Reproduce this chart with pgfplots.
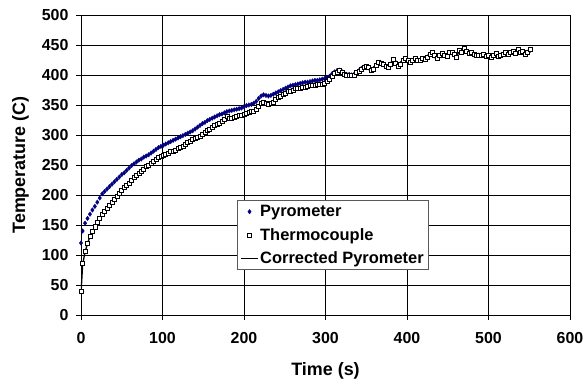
\documentclass[border=0pt]{standalone}
\usepackage{fontspec}
\setmainfont{Liberation Sans}
\usepackage{pgfplots}
\pgfplotsset{compat=1.18}
\usepackage{pgfplotstable}
\definecolor{pyro}{RGB}{0,0,128}
\pgfplotstableread{
t P T C
0 120 40 35
2 140 86 84
5 153 106 105
8 161 120 119
11 168 131 131
14 175 140 140
17 181 147 147
20 188 154 154
23 195 161 161
26 202 167 167
29 206 172 172
32 210 177 177
35 214 182 182
38 218 187 187
41 222 192 192
44 226 197 197
47 230 202 202
50 234 207 207
53 237 212 212
56 241 216 216
59 245 220 220
62 249 224 224
65 252 229 229
68 255 233 233
71 258 236 236
74 260 240 240
77 263 243 243
80 265 247 247
83 267 250 250
86 270 253 253
89 273 256 256
92 276 259 259
95 279 262 262
98 281 264 264
101 283 266 266
104 285 268 268
107 287 270 270
110 289 272 272
113 291 273 273
116 293 275 275
119 295 277 277
122 297 279 279
125 299 281 281
128 301 284 284
131 303 287 287
134 305 290 290
137 307 292 292
140 310 294 294
143 313 296 296
146 316 298 298
149 319 301 301
152 321 304 304
155 324 307 307
158 326 310 310
161 328 313 313
164 330 316 316
167 332 318 318
170 334 320 320
173 335 322 322
176 337 326 326
179 339 331 331
182 340 328 328
185 341 327 327
188 342 330 330
191 343 331 331
194 344 332 332
197 345 333 333
200 347 334 334
203 349 336 336
206 350 338 338
209 351 340 340
212 353 339 339
215 356 342 342
218 361 347 347
221 365 352 352
224 367 355 355
227 366 353 353
230 365 351 351
233 366 352 352
236 368 354 354
239 370 360 360
242 372 363 363
245 374 365 365
248 376 367 367
251 378 370 370
254 380 373 373
257 382 373 373
260 383 375 375
263 384 377 377
266 385 377 377
269 386 378 378
272 387 379 379
275 388 380 380
278 388 381 381
281 389 382 382
284 390 383 383
287 391 383 383
290 391 384 384
293 392 384 384
296 393 385 385
299 394 386 386
302 396 390 390
305 398 392 392
308 402 398 398
311 405 403 403
314 407 405 405
317 408 407 407
320 406 405 405
323 403 401 401
326 401 400 400
329 401 400 400
332 400 399 399
335 401 400 400
338 404 404 404
341 407 406 406
344 411 410 410
347 413 413 413
350 414 414 414
353 412 412 412
356 409 408 408
359 411 410 410
362 416 416 416
365 420 421 421
368 420 420 420
371 417 417 417
374 415 414 414
377 414 412 412
380 418 418 418
383 424 426 426
386 421 420 420
389 416 414 414
392 419 418 418
395 424 424 424
398 427 428 428
401 425 425 425
404 422 421 421
407 424 424 424
410 427 428 428
413 425 425 425
416 425 424 424
419 427 428 428
422 427 426 426
425 430 429 429
428 434 434 434
431 436 438 438
434 432 432 432
437 430 428 428
440 432 432 432
443 435 436 436
446 433 433 433
449 433 431 431
452 436 437 437
455 437 438 438
458 434 434 434
461 433 430 430
464 439 441 441
467 438 437 437
470 442 445 445
473 440 440 440
476 437 436 436
479 437 438 438
482 434 434 434
485 433 432 432
488 433 433 433
491 433 432 432
494 433 434 434
497 432 431 431
500 432 433 433
503 431 430 430
506 432 432 432
509 434 436 436
512 432 431 431
515 433 432 432
518 434 434 434
521 437 438 438
524 436 435 435
527 437 437 437
530 438 439 439
533 437 436 436
536 441 443 443
539 439 438 438
542 439 440 440
545 436 434 434
548 438 437 437
551 441 442 442
}\data
\begin{document}
\begin{tikzpicture}
\useasboundingbox (-81bp,-68bp) rectangle (503bp,315bp);
\begin{axis}[
  at={(0,0)}, anchor=south west,
  scale only axis, width=489bp, height=300bp,
  xmin=0, xmax=600, ymin=0, ymax=500,
  xtick={0,100,...,600}, ytick={0,50,...,500},
  grid=major, major grid style={black, line width=0.7bp},
  axis line style={black, line width=0.8bp},
  tick pos=left, tick align=outside, major tick length=5bp,
  tick style={black, line width=0.7bp},
  /pgf/number format/assume math mode=true,
  ticklabel style={font=\fontsize{16}{18}\selectfont\bfseries},
  yticklabel style={xshift=-4bp},
  xticklabel style={yshift=-9bp},
  xlabel={Time (s)}, ylabel={Temperature (C)},
  label style={font=\fontsize{18}{20}\selectfont\bfseries},
  xlabel style={at={(axis description cs:0.5,0)}, anchor=center, yshift=-56bp},
  ylabel style={at={(axis description cs:0,0.5)}, anchor=center, yshift=60.5bp},
  legend style={at={(rel axis cs:0.319,0.382)}, anchor=north west,
    draw=gray!70!black, line width=0.8bp, fill=white,
    font=\fontsize{16.5}{18}\selectfont\bfseries,
    nodes={inner sep=1.5bp}, row sep=7bp, inner xsep=3bp, inner ysep=3bp},
  legend cell align=left,
]
\addplot[only marks, mark=diamond*, mark size=2.3bp, pyro, mark options={fill=pyro, draw=pyro, line width=0.3bp}] table[x=t, y=P] {\data};
\addlegendentry{Pyrometer}
\addplot[only marks, mark=square*, mark size=2bp, black, mark options={fill=white, draw=black, line width=0.6bp}] table[x=t, y=T] {\data};
\addlegendentry{Thermocouple}
\addplot[black, line width=1.3bp, no marks] table[x=t, y=C] {\data};
\addlegendentry{Corrected Pyrometer}
\end{axis}
\end{tikzpicture}
\end{document}
